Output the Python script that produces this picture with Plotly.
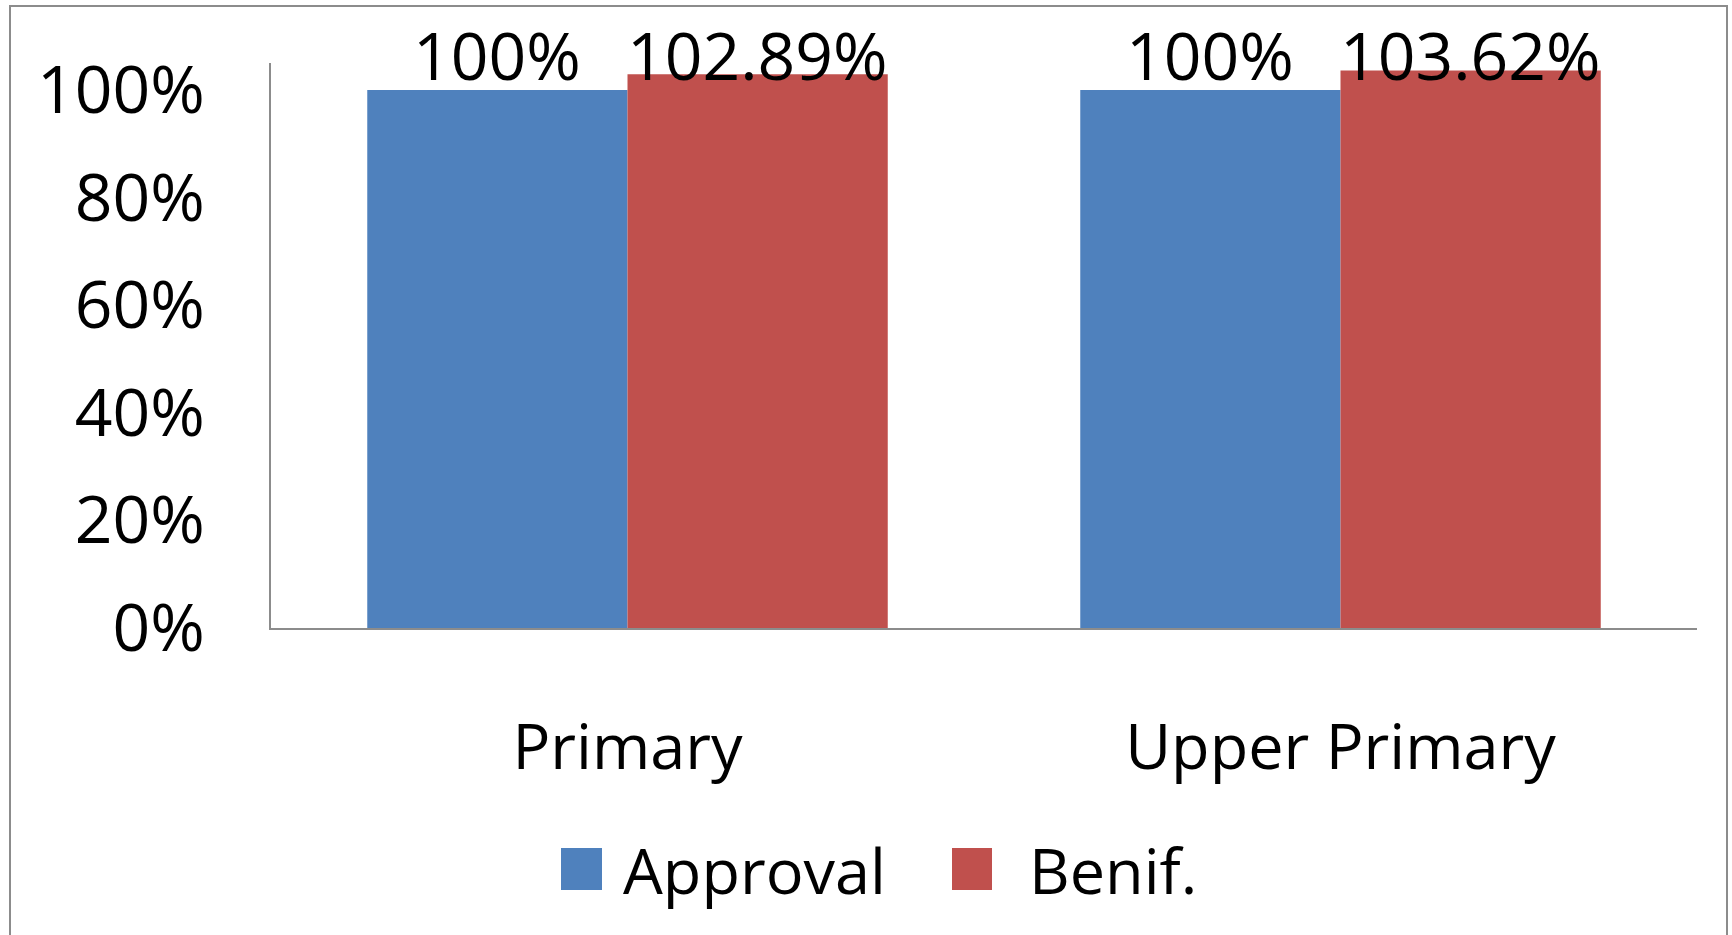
import plotly.graph_objects as go

categories = ["Primary", "Upper Primary"]
series_names = ["Approval", "Benif."]
approval = [1.00, 1.00]
benif = [1.0289, 1.0362]
colors = ["#4F81BD", "#C0504D"]
y_tickvals = [0, 0.2, 0.4, 0.6, 0.8, 1.0]
y_ticktext = ["0%", "20%", "40%", "60%", "80%", "100%"]

FONT = "Open Sans"
FS_NUM = 66
FS_TXT = 63
BARGAP = 0.27

W, H = 1732, 935
L, R, T, B = 271, 35, 63, 307
pw, ph = W - L - R, H - T - B

def px_x(p):
    return (p - L) / pw

def px_y(p):
    return (H - B - p) / ph

fig = go.Figure()
all_vals = [approval, benif]
for name, vals, col in zip(series_names, all_vals, colors):
    fig.add_trace(go.Bar(x=categories, y=vals, name=name, marker=dict(color=col, line=dict(width=0)),
                         showlegend=False))

def fmt(v):
    s = f"{v*100:.2f}".rstrip("0").rstrip(".")
    return s + "%"

annotations = []
n = len(series_names)
bw = (1 - BARGAP) / n
for si, vals in enumerate(all_vals):
    off = -(1 - BARGAP) / 2 + bw * (si + 0.5)
    for ci, v in enumerate(vals):
        annotations.append(dict(x=ci + off, y=1.0, xref="x", yref="paper", text=fmt(v),
                                showarrow=False, xanchor="center", yanchor="middle", yshift=9,
                                font=dict(family=FONT, size=FS_NUM, color="black")))

# custom legend
shapes = []
leg_sq = [(561, 602), (952, 992)]
leg_tx = [621, 1027]
for (x0, x1), tx, name, col in zip(leg_sq, leg_tx, series_names, colors):
    shapes.append(dict(type="rect", xref="paper", yref="paper", x0=px_x(x0), x1=px_x(x1),
                       y0=px_y(890), y1=px_y(848), fillcolor=col, line=dict(width=0)))
    annotations.append(dict(x=px_x(tx), y=px_y(869), xref="paper", yref="paper", text=name,
                            showarrow=False, xanchor="left", yanchor="middle",
                            font=dict(family=FONT, size=FS_TXT, color="black")))

# outer border
shapes.append(dict(type="rect", xref="paper", yref="paper", x0=px_x(10), x1=px_x(1727),
                   y0=px_y(945), y1=px_y(6), line=dict(color="#8C8C8C", width=2),
                   fillcolor="rgba(0,0,0,0)", layer="below"))

fig.update_layout(
    width=W, height=H, autosize=False,
    margin=dict(l=L, r=R, t=T, b=B, pad=0),
    paper_bgcolor="white", plot_bgcolor="white",
    barmode="group", bargap=BARGAP, bargroupgap=0,
    font=dict(family=FONT, size=FS_TXT, color="black"),
    annotations=annotations, shapes=shapes,
    showlegend=False,
    xaxis=dict(showline=True, linecolor="#8C8C8C", linewidth=2, showgrid=False, ticks="",
               tickfont=dict(family=FONT, size=FS_TXT, color="black"), ticklabelstandoff=63,
               zeroline=False),
    yaxis=dict(range=[0, 1.05], showline=True, linecolor="#8C8C8C", linewidth=2, showgrid=False,
               ticks="", tickvals=y_tickvals, ticktext=y_ticktext, zeroline=False,
               tickfont=dict(family=FONT, size=FS_NUM, color="black"), ticklabelstandoff=51),
)

fig.write_html("out.html")
